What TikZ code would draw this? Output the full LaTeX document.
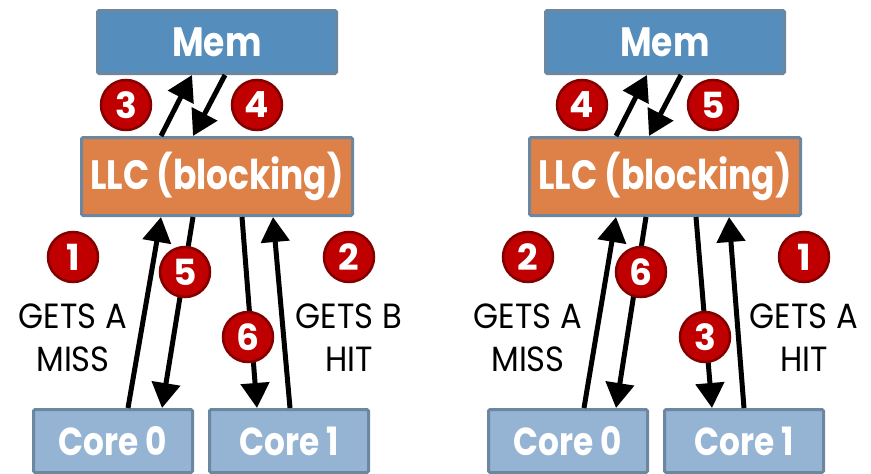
\documentclass[tikz,border=0pt]{standalone}
\usepackage{fontspec}
\setmainfont{Poppins}
\newfontfamily\boxfont[FakeStretch=0.84]{Poppins}
\newfontfamily\lblfont[FakeStretch=0.92]{Poppins}
\usetikzlibrary{arrows.meta}
\definecolor{memblue}{RGB}{85,141,188}
\definecolor{llcorange}{RGB}{221,129,72}
\definecolor{coreblue}{RGB}{149,180,211}
\definecolor{boxline}{RGB}{108,135,160}
\definecolor{numred}{RGB}{192,0,0}
\definecolor{numdark}{RGB}{130,0,0}

\begin{document}
\begin{tikzpicture}[x=1pt,y=-1pt,
  box/.style={draw=boxline,line width=3pt,rounded corners=1.5pt,text=white,inner sep=0pt,
    font=\boxfont\bfseries\fontsize{41}{41}\selectfont},
  mem/.style={box,fill=memblue,minimum width=239pt,minimum height=63pt},
  llc/.style={box,fill=llcorange,minimum width=271pt,minimum height=78pt},
  core/.style={box,fill=coreblue,minimum width=159pt,minimum height=63pt,
    font=\boxfont\bfseries\fontsize{39}{39}\selectfont},
  num/.style={circle,fill=numred,draw=numdark,line width=2.5pt,minimum size=50pt,inner sep=0pt,
    text=white,font=\bfseries\fontsize{36}{36}\selectfont},
  lbl/.style={align=center,font=\lblfont\fontsize{35}{43}\selectfont},
  arr/.style={line width=5pt,-{Triangle[width=28pt,length=25pt]}}]
  \useasboundingbox (0,0) rectangle (871,474);

  % left: core 0 misses, core 1 hits
  \node at (217,42) [mem] (memL) {Mem};
  \node at (217,176.5) [llc] (llcL) {LLC (blocking)};
  \node at (113,441) [core] (core0L) {Core 0};
  \node at (289,441) [core] (core1L) {Core 1};

  \draw[arr] ([xshift=-56pt]llcL.north) -- ([xshift=-25pt]memL.south);
  \draw[arr] ([xshift=8pt]memL.south) -- ([xshift=-24pt]llcL.north);
  \draw[arr] ([xshift=15pt]core0L.north) -- ([xshift=-56pt]llcL.south);
  \draw[arr] ([xshift=-24pt]llcL.south) -- ([xshift=49pt]core0L.north);
  \draw[arr] ([xshift=25pt]llcL.south) -- ([xshift=-32pt]core1L.north);
  \draw[arr] ([xshift=1pt]core1L.north) -- ([xshift=56pt]llcL.south);

  \node at (126,105) [num] (n3L) {3};
  \node at (257,105) [num] (n4L) {4};
  \node at (73,257) [num] (n1L) {1};
  \node at (185,272) [num] (n5L) {5};
  \node at (349,257) [num] (n2L) {2};
  \node at (248,337) [num] (n6L) {6};
  \node at (73,338) [lbl] (reqAL) {GETS A\\MISS};
  \node at (349,338) [lbl] (reqBL) {GETS B\\HIT};

  % right: core 1 hits first
  \node at (665,42) [mem] (memR) {Mem};
  \node at (665,176.5) [llc] (llcR) {LLC (blocking)};
  \node at (568,441) [core] (core0R) {Core 0};
  \node at (744,441) [core] (core1R) {Core 1};

  \draw[arr] ([xshift=-49pt]llcR.north) -- ([xshift=-18pt]memR.south);
  \draw[arr] ([xshift=16pt]memR.south) -- ([xshift=-16pt]llcR.north);
  \draw[arr] ([xshift=16pt]core0R.north) -- ([xshift=-49pt]llcR.south);
  \draw[arr] ([xshift=-19pt]llcR.south) -- ([xshift=48pt]core0R.north);
  \draw[arr] ([xshift=31pt]llcR.south) -- ([xshift=-32pt]core1R.north);
  \draw[arr] (core1R.north) -- ([xshift=64pt]llcR.south);

  \node at (582,105) [num] (n4R) {4};
  \node at (713,105) [num] (n5R) {5};
  \node at (528,257) [num] (n2R) {2};
  \node at (641,272) [num] (n6R) {6};
  \node at (705,337) [num] (n3R) {3};
  \node at (804,257) [num] (n1R) {1};
  \node at (528,338) [lbl] (reqAR) {GETS A\\MISS};
  \node at (804,338) [lbl] (reqBR) {GETS A\\HIT};
\end{tikzpicture}
\end{document}
